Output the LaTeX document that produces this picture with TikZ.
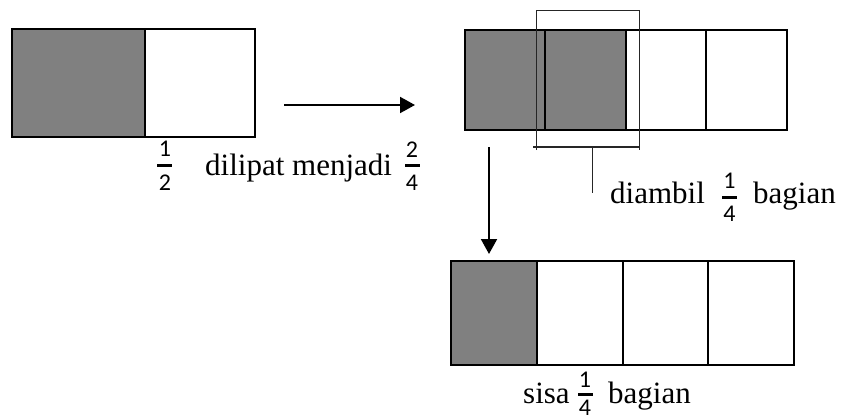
\documentclass[tikz,border=0pt]{standalone}
\usepackage{fontspec}
\setmainfont{Liberation Serif}
\newfontfamily\fracfont{Carlito}
\usetikzlibrary{arrows.meta}
\tikzset{
  cell/.style={draw, line width=2pt, inner sep=0pt, fill=white},
  shaded/.style={cell, fill=gray},
  txt/.style={inner sep=0pt, anchor=base west, font=\fontsize{31}{34}\selectfont},
  digit/.style={inner sep=0pt, font=\fracfont\fontsize{24}{26}\selectfont},
  fracbar/.style={fill=black, inner sep=0pt, minimum width=15pt, minimum height=3pt},
  bigarrow/.style={line width=2pt, -{Triangle[length=15pt,width=16pt]}},
  bracket/.style={line width=1pt, draw=black!85},
}
\begin{document}
\begin{tikzpicture}[x=1pt,y=-1pt]
\useasboundingbox (0,0) rectangle (841,420);
% left bar
\node[shaded, minimum width=133pt, minimum height=108pt] (L1) at (78.5,83) {};
\node[cell, minimum width=110pt, minimum height=108pt] (L2) at (200,83) {};
% top right bar
\node[shaded, minimum width=80pt, minimum height=100pt] (T1) at (505,80) {};
\node[shaded, minimum width=81pt, minimum height=100pt] (T2) at (585.5,80) {};
\node[cell, minimum width=80pt, minimum height=100pt] (T3) at (666,80) {};
\node[cell, minimum width=81pt, minimum height=100pt] (T4) at (746.5,80) {};
% bottom bar
\node[shaded, minimum width=86pt, minimum height=104pt] (B1) at (494,313) {};
\node[cell, minimum width=86pt, minimum height=104pt] (B2) at (580,313) {};
\node[cell, minimum width=85pt, minimum height=104pt] (B3) at (665.5,313) {};
\node[cell, minimum width=86pt, minimum height=104pt] (B4) at (751,313) {};
% arrows
\coordinate (a1) at (284,105);
\coordinate (a2) at (415,105);
\draw[bigarrow] (a1) -- (a2);
\coordinate (d1) at (489,147);
\coordinate (d2) at (489,254);
\draw[bigarrow] (d1) -- (d2);
% bracket
\coordinate (k1) at (536,150);
\coordinate (k2) at (536,11);
\coordinate (k3) at (639,11);
\coordinate (k4) at (639,150);
\coordinate (k5) at (533,147);
\coordinate (k6) at (639,147);
\coordinate (s1) at (592,147);
\coordinate (s2) at (592,193);
\draw[bracket] (k1) -- (k2) -- (k3) -- (k4);
\draw[bracket, line width=1.5pt] (k5) -- (k6);
\draw[bracket] (s1) -- (s2);
% fraction 1/2
\node[digit] (f1n) at (165,148.5) {1};
\node[fracbar] (f1b) at (164.5,165.5) {};
\node[digit] (f1d) at (165,182.5) {2};
% text
\node[txt] (t1) at (205,175) {dilipat menjadi};
% fraction 2/4
\node[digit] (f2n) at (412,150) {2};
\node[fracbar] (f2b) at (412,165.5) {};
\node[digit] (f2d) at (412,183) {4};
% diambil 1/4 bagian
\node[txt] (t2) at (610,203) {diambil};
\node[digit] (f3n) at (729.5,181) {1};
\node[fracbar] (f3b) at (729.5,197.5) {};
\node[digit] (f3d) at (729.5,214) {4};
\node[txt] (t3) at (753,203) {bagian};
% sisa 1/4 bagian
\node[txt] (t4) at (523,403) {sisa};
\node[digit] (f4n) at (585,380) {1};
\node[fracbar] (f4b) at (585,394) {};
\node[digit] (f4d) at (585,408) {4};
\node[txt] (t5) at (608,403) {bagian};
\end{tikzpicture}
\end{document}
